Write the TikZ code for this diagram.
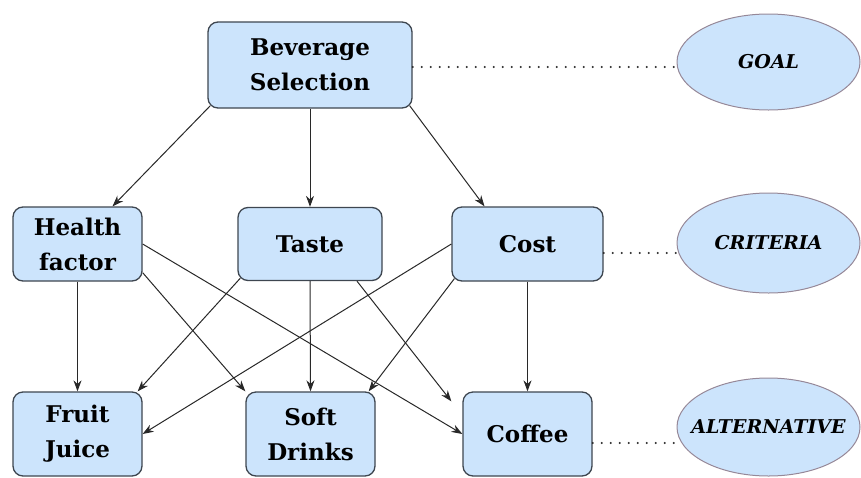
\documentclass[tikz,border=0pt]{standalone}
\usepackage{fontspec}
\setmainfont{DejaVu Serif}
\usetikzlibrary{shapes.geometric,arrows.meta}
\definecolor{boxfill}{RGB}{204,228,252}
\definecolor{boxline}{RGB}{62,70,80}
\definecolor{ovalline}{RGB}{150,136,152}
\definecolor{linkcol}{RGB}{40,40,40}
\tikzset{
    levelbox/.style={draw=boxline, fill=boxfill, line width=1.3pt, rounded corners=10pt,
        align=center, inner sep=0pt, font=\bfseries\fontsize{23}{35}\selectfont},
    levelname/.style={ellipse, draw=ovalline, fill=boxfill, line width=1pt,
        inner xsep=-25pt, inner ysep=0pt, minimum width=183pt,
        font=\bfseries\itshape\fontsize{19}{22}\selectfont},
    link/.style={draw=linkcol, line width=1pt, -{Stealth[length=11pt,width=8pt]}},
    levelline/.style={draw=linkcol, line width=2.3pt, line cap=round, dash pattern=on 0pt off 9pt}
}

\begin{document}
\begin{tikzpicture}[x=1pt, y=-1pt]
    \useasboundingbox (0,0) rectangle (861,477);

    %% Hierarchy
    % goal
    \node[levelbox, minimum width=204pt, minimum height=86pt] (bev) at (310,65) {Beverage\\Selection};

    % criteria
    \node[levelbox, minimum width=129pt, minimum height=74pt] (health) at (77.5,244) {Health\\factor};
    \node[levelbox, minimum width=144pt, minimum height=73pt] (taste) at (310,244) {Taste};
    \node[levelbox, minimum width=151pt, minimum height=74pt] (cost) at (527.5,244) {Cost};

    % alternatives
    \node[levelbox, minimum width=129pt, minimum height=84pt] (fruit) at (77.5,434) {Fruit\\Juice};
    \node[levelbox, minimum width=129pt, minimum height=84pt] (soft) at (310.5,434) {Soft\\Drinks};
    \node[levelbox, minimum width=129pt, minimum height=84pt] (coffee) at (527.5,434) {Coffee};

    %% Level names
    \node[levelname, minimum height=96pt] (goal) at (768.5,62) {GOAL};
    \node[levelname, minimum height=100pt] (criteria) at (768.5,243) {CRITERIA};
    \node[levelname, minimum height=98pt] (alt) at (768.5,427) {ALTERNATIVE};

    \draw[levelline] ([yshift=-2pt]bev.east) -- ([yshift=-2pt]bev.east -| goal.west);
    \draw[levelline] ([yshift=-9pt]cost.east) -- ([yshift=-9pt]cost.east -| criteria.west);
    \draw[levelline] ([yshift=-9pt]coffee.east) -- ([yshift=-9pt]coffee.east -| alt.west);

    %% Goal to criteria
    \draw[link] ([shift={(3pt,3pt)}]bev.south west) -- ([xshift=35pt]health.north);
    \draw[link] (bev.south) -- (taste.north);
    \draw[link] ([shift={(-3pt,3pt)}]bev.south east) -- ([xshift=-43pt]cost.north);

    %% Criteria to alternatives
    \draw[link] (health.south) -- (fruit.north);
    \draw[link] ([yshift=9pt]health.south east) -- (soft.north west);
    \draw[link] (health.east) -- (coffee.west);

    \draw[link] ([shift={(3pt,3pt)}]taste.south west) -- ([xshift=-5pt]fruit.north east);
    \draw[link] (taste.south) -- (soft.north);
    \draw[link] ([xshift=47pt]taste.south) -- ([shift={(-11pt,-10pt)}]coffee.north west);

    \draw[link] (cost.west) -- (fruit.east);
    \draw[link] ([shift={(3pt,3pt)}]cost.south west) -- ([xshift=-7pt]soft.north east);
    \draw[link] (cost.south) -- (coffee.north);

\end{tikzpicture}
\end{document}
